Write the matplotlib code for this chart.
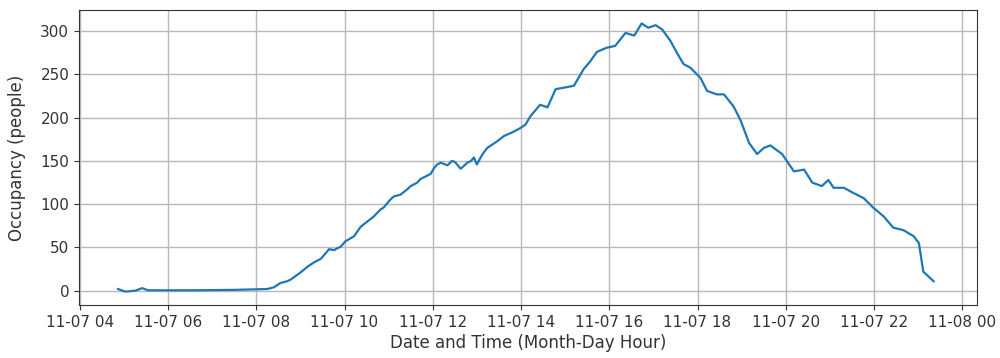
import matplotlib
matplotlib.use("Agg")
import matplotlib.pyplot as plt
import matplotlib.dates as mdates
import pandas as pd

# occupancy readings for 2023-11-07 (HH:MM, people)
times = [
    "04:52", "05:02", "05:15", "05:25", "05:33", "06:30", "07:30", "08:15",
    "08:24", "08:33", "08:42", "08:47", "09:00", "09:10", "09:19", "09:28",
    "09:32", "09:39", "09:46", "09:50", "09:55", "10:01", "10:13", "10:22",
    "10:31", "10:40", "10:49", "10:53", "11:02", "11:07", "11:16", "11:25",
    "11:30", "11:39", "11:43", "11:57", "12:02", "12:06", "12:11", "12:20",
    "12:26", "12:30", "12:38", "12:47", "12:52", "12:56", "13:00", "13:07",
    "13:14", "13:28", "13:37", "13:48", "13:59", "14:06", "14:13", "14:26",
    "14:36", "14:47", "15:00", "15:12", "15:25", "15:34", "15:43", "15:51",
    "15:57", "16:08", "16:22", "16:34", "16:44", "16:53", "17:03", "17:12",
    "17:23", "17:32", "17:41", "17:50", "18:04", "18:13", "18:26", "18:36",
    "18:49", "18:58", "19:03", "19:10", "19:21", "19:30", "19:39", "19:55",
    "20:11", "20:25", "20:36", "20:49", "20:58", "21:05", "21:19", "21:32",
    "21:46", "21:59", "22:13", "22:26", "22:40", "22:54", "23:01", "23:07",
    "23:21",
]
occupancy = [
    2, -1, 0, 3, 0.5, 0.5, 1, 2,
    4, 9, 11, 13, 21, 28, 33, 37,
    41, 48, 47, 49, 51, 57, 63, 74,
    80, 86, 94, 96, 105, 109, 111, 117,
    121, 125, 129, 135, 142, 146, 148, 145,
    150, 149, 141, 148, 150, 154, 146, 157,
    165, 173, 179, 183, 188, 192, 202, 215,
    212, 233, 235, 237, 256, 265, 276, 279,
    281, 283, 298, 295, 309, 304, 307, 302,
    289, 275, 262, 258, 246, 231, 227, 227,
    213, 198, 187, 171, 158, 165, 168, 158,
    138, 140, 125, 121, 128, 119, 119, 113,
    107, 96, 86, 73, 70, 63, 55, 22,
    11,
]

stamps = pd.to_datetime(["2023-11-07 " + t for t in times])

fig = plt.figure(figsize=(10, 3.58), dpi=100)
ax = fig.add_axes([0.079, 0.148, 0.898, 0.824])
ax.plot(stamps, occupancy, color="#1f77b4", linewidth=1.6)

ax.set_xlim(pd.Timestamp("2023-11-07 03:59"), pd.Timestamp("2023-11-08 00:20"))
ax.xaxis.set_major_locator(mdates.HourLocator(byhour=range(0, 24, 2)))
ax.xaxis.set_major_formatter(mdates.DateFormatter("%m-%d %H"))
ax.set_yticks(range(0, 301, 50))
ax.grid(True, color="#b8b8b8", linewidth=1.0)
ax.tick_params(labelsize=11, colors="#333333")
for sp in ax.spines.values():
    sp.set_color("#333333")

ax.set_xlabel("Date and Time (Month-Day Hour)", fontsize=12, color="#333333", labelpad=3)
ax.set_ylabel("Occupancy (people)", fontsize=12, color="#333333", labelpad=10)

fig.savefig("out.png", dpi=100)
